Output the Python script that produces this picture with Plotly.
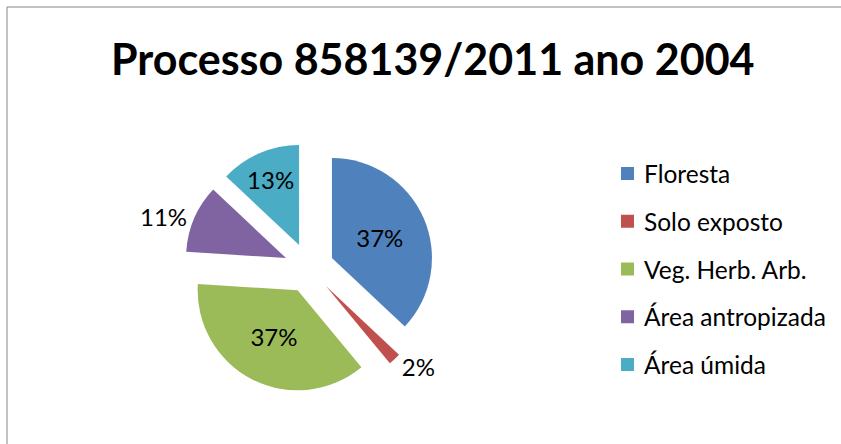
import plotly.graph_objects as go

categories = ["Floresta", "Solo exposto", "Veg. Herb. Arb.", "Área antropizada", "Área úmida"]
values = [37, 2, 37, 11, 13]
colors = ["#4F81BD", "#C0504D", "#9BBB59", "#8064A2", "#4BACC6"]
text_positions = ["inside", "outside", "inside", "outside", "inside"]
title_text = "Processo 858139/2011 ano 2004"

W, H = 841, 444
FONT = "Lato"

def px(x):
    return x / W

def py(y):
    return 1 - y / H

pull = 0.25
cx, cy, r = 309, 268, 100
half = r * (1 + pull)

fig = go.Figure()
fig.add_trace(go.Pie(
    labels=categories,
    values=values,
    marker=dict(colors=colors, line=dict(width=0)),
    sort=False,
    direction="clockwise",
    rotation=0,
    pull=[pull] * len(values),
    textinfo="percent",
    textposition=text_positions,
    insidetextorientation="horizontal",
    textfont=dict(family=FONT, size=24, color="black"),
    domain=dict(x=[px(cx - half), px(cx + half)], y=[py(cy + half), py(cy - half)]),
    showlegend=False,
    hoverinfo="label+percent",
))

annotations = [dict(
    text="<b>" + title_text + "</b>", x=px(433), y=py(59), xref="paper", yref="paper",
    xanchor="center", yanchor="middle", showarrow=False,
    font=dict(family=FONT, size=43, color="black"),
)]
shapes = [dict(type="rect", xref="paper", yref="paper", x0=px(7), x1=1.05, y0=-0.05, y1=py(7),
               line=dict(color="#868686", width=1), fillcolor="rgba(0,0,0,0)")]

y0, step = 173.5, 47.75
for i, (lab, col) in enumerate(zip(categories, colors)):
    yc = y0 + step * i
    shapes.append(dict(type="rect", xref="paper", yref="paper",
                       x0=px(621), x1=px(634), y0=py(yc + 6.5), y1=py(yc - 6.5),
                       fillcolor=col, line=dict(width=0)))
    annotations.append(dict(text=lab, x=px(642), y=py(yc), xref="paper", yref="paper",
                            xanchor="left", yanchor="middle", showarrow=False,
                            font=dict(family=FONT, size=24.5, color="black")))

fig.update_layout(
    width=W, height=H,
    margin=dict(l=0, r=0, t=0, b=0),
    paper_bgcolor="white", plot_bgcolor="white",
    annotations=annotations, shapes=shapes,
)
fig.write_html("out.html")
